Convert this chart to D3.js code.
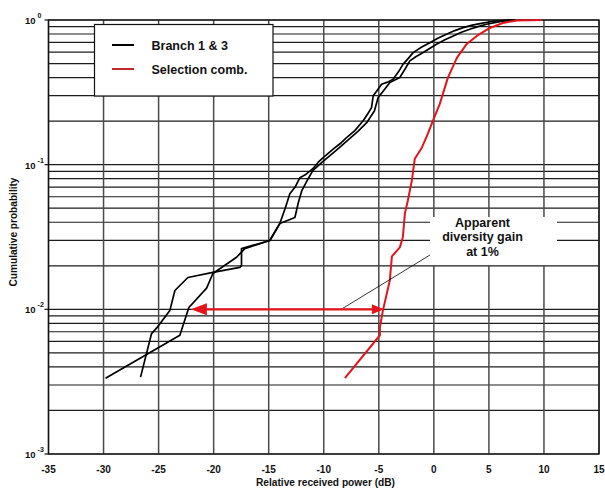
<!DOCTYPE html>
<html>
<head>
<meta charset="utf-8">
<script src="https://cdn.jsdelivr.net/npm/d3@7"></script>
<style>
  body { margin: 0; background: #fff; }
  svg { display: block; font-family: "Liberation Sans", Arial, sans-serif; }
</style>
</head>
<body>
<svg id="chart" width="605" height="488"></svg>
<script>
// ---- data ----
const xTicks = [-35, -30, -25, -20, -15, -10, -5, 0, 5, 10, 15];
const yDecades = [-3, -2, -1, 0];
const seriesNames = ["Branch 1 & 3", "Selection comb."];

// [relative power dB, cumulative probability]
const branchA = [
  [-29.82, 0.00334], [-23.07, 0.00662], [-22.25, 0.0103], [-20.64, 0.0140],
  [-20.07, 0.0177], [-17.92, 0.0229], [-17.17, 0.0263], [-14.9, 0.0299],
  [-13.99, 0.0392], [-13.5, 0.050], [-13.08, 0.063], [-12.6, 0.070], [-12.17, 0.0813],
  [-11.6, 0.086], [-10.99, 0.0938], [-10.5, 0.104], [-10.05, 0.112], [-9.15, 0.128],
  [-8.5, 0.140], [-7.93, 0.154], [-7.18, 0.172], [-6.42, 0.201], [-6.0, 0.225],
  [-5.66, 0.248], [-5.51, 0.299], [-5.1, 0.330], [-4.75, 0.360], [-4.2, 0.372],
  [-3.70, 0.390], [-3.2, 0.440], [-2.79, 0.495], [-2.3, 0.545], [-1.88, 0.595],
  [-1.1, 0.650], [-0.36, 0.697], [0.4, 0.750], [1.15, 0.797], [1.9, 0.845],
  [2.66, 0.885], [3.4, 0.918], [4.18, 0.944], [5.39, 0.980], [6.5, 0.995], [7.2, 1.0]
];
const branchB = [
  [-26.64, 0.0034], [-25.64, 0.0068], [-25.07, 0.0076], [-23.98, 0.0098],
  [-23.52, 0.0135], [-22.34, 0.0166], [-20.07, 0.0180], [-17.62, 0.0195],
  [-17.47, 0.0201], [-17.47, 0.0263], [-14.9, 0.0299], [-13.99, 0.0392],
  [-12.62, 0.0431], [-12.3, 0.055], [-11.99, 0.0662], [-11.5, 0.078],
  [-10.99, 0.091], [-10.4, 0.100], [-9.9, 0.108], [-8.9, 0.125], [-8.3, 0.137],
  [-7.7, 0.150], [-6.9, 0.170], [-6.1, 0.195], [-5.4, 0.235], [-5.06, 0.291],
  [-4.5, 0.330], [-4.0, 0.370], [-3.09, 0.400], [-2.6, 0.460], [-2.18, 0.522],
  [-1.6, 0.560], [-0.97, 0.596], [0.24, 0.680], [1.0, 0.730], [1.76, 0.776],
  [2.5, 0.822], [3.27, 0.863], [4.0, 0.900], [4.78, 0.934], [5.99, 0.975],
  [6.8, 0.995], [7.4, 1.0]
];
const selection = [
  [-8.08, 0.00334], [-4.90, 0.00662], [-4.90, 0.0075], [-4.63, 0.0098],
  [-4.0, 0.0158], [-3.81, 0.0232], [-3.09, 0.0268], [-2.82, 0.0314],
  [-2.63, 0.0459], [-2.36, 0.0565], [-2.0, 0.0776], [-1.73, 0.110],
  [-1.09, 0.131], [-0.54, 0.164], [-0.09, 0.201], [0.54, 0.263],
  [1.27, 0.398], [2.09, 0.547], [2.99, 0.683], [3.9, 0.776], [5.09, 0.881],
  [6.27, 0.953], [7.54, 0.992], [9.81, 1.0]
];

// annotation: gain arrow at 1 %
const gainLevel = 0.01;
const gainFrom = -4.54;   // selection comb. at 1 %
const gainTo = -22.07;    // branch at 1 %
const annotationText = ["Apparent", "diversity gain", "at 1%"];

// ---- layout ----
const svg = d3.select("#chart");
const W = 605, H = 488;
const x = d3.scaleLinear().domain([-35, 15]).range([48.5, 599]);
const y = d3.scaleLog().domain([0.001, 1]).range([454, 20]);

svg.append("rect").attr("width", W).attr("height", H).attr("fill", "#fff");

// horizontal grid (log minor lines)
const hLines = [];
yDecades.slice(0, 3).forEach(d => {
  for (let m = 1; m <= 9; m++) hLines.push(m * Math.pow(10, d));
});
hLines.push(1);
svg.append("g").selectAll("line").data(hLines).join("line")
  .attr("x1", x(-35)).attr("x2", x(15))
  .attr("y1", d => y(d)).attr("y2", d => y(d))
  .attr("stroke", (d, i) => "#1c1c1c").attr("stroke-width", 1.2);

// vertical grid
svg.append("g").selectAll("line").data(xTicks).join("line")
  .attr("x1", d => x(d)).attr("x2", d => x(d))
  .attr("y1", y(1)).attr("y2", y(0.001))
  .attr("stroke", "#4a4a4a").attr("stroke-width", 1.5);

// frame
svg.append("rect").attr("x", x(-35)).attr("y", y(1))
  .attr("width", x(15) - x(-35)).attr("height", y(0.001) - y(1))
  .attr("fill", "none").attr("stroke", "#111").attr("stroke-width", 1.3);

// left outward ticks at decades
svg.append("g").selectAll("line").data(yDecades).join("line")
  .attr("x1", x(-35) - 4).attr("x2", x(-35))
  .attr("y1", d => y(Math.pow(10, d))).attr("y2", d => y(Math.pow(10, d)))
  .attr("stroke", "#111").attr("stroke-width", 1.2);

// x tick labels
svg.append("g").selectAll("text").data(xTicks).join("text")
  .attr("x", d => x(d)).attr("y", 472.5)
  .attr("text-anchor", "middle")
  .attr("font-size", 10).attr("font-weight", "bold").attr("fill", "#111")
  .text(d => d);

// y tick labels 10^k
const yl = svg.append("g").selectAll("text").data(yDecades).join("text")
  .attr("x", 25).attr("y", d => y(Math.pow(10, d)) + 4)
  .attr("font-size", 9.5).attr("font-weight", "bold").attr("fill", "#111");
yl.append("tspan").text("10");
yl.append("tspan").attr("dx", 2).attr("dy", -6).attr("font-size", 7).text(d => d);

// axis titles
svg.append("text").attr("x", 325.5).attr("y", 486)
  .attr("text-anchor", "middle").attr("font-size", 10).attr("font-weight", "bold")
  .attr("textLength", 139).attr("lengthAdjust", "spacingAndGlyphs")
  .attr("fill", "#111").text("Relative received power (dB)");
svg.append("text")
  .attr("transform", "translate(17,232) rotate(-90)")
  .attr("text-anchor", "middle").attr("font-size", 10).attr("font-weight", "bold")
  .attr("textLength", 109).attr("lengthAdjust", "spacingAndGlyphs")
  .attr("fill", "#111").text("Cumulative probability");

// annotation box (white, covers grid)
const boxX0 = 430, boxX1 = 557, boxY0 = 217, boxY1 = 265;
svg.append("rect").attr("x", boxX0).attr("y", boxY0)
  .attr("width", boxX1 - boxX0).attr("height", boxY1 - boxY0).attr("fill", "#fff");

// curves
const line = d3.line().x(d => x(d[0])).y(d => y(d[1]));
svg.append("path").datum(branchA).attr("d", line)
  .attr("fill", "none").attr("stroke", "#000").attr("stroke-width", 1.7)
  .attr("stroke-linejoin", "round");
svg.append("path").datum(branchB).attr("d", line)
  .attr("fill", "none").attr("stroke", "#000").attr("stroke-width", 1.7)
  .attr("stroke-linejoin", "round");
svg.append("path").datum(selection).attr("d", line)
  .attr("fill", "none").attr("stroke", "#e3141c").attr("stroke-width", 2)
  .attr("stroke-linejoin", "round");

// leader line
svg.append("line")
  .attr("x1", x(-8.27)).attr("y1", y(gainLevel) - 1)
  .attr("x2", boxX0).attr("y2", 255)
  .attr("stroke", "#000").attr("stroke-width", 0.8);

// gain arrow
const ay = y(gainLevel);
const xl = x(gainTo), xr = x(gainFrom);
svg.append("line").attr("x1", xl + 14).attr("x2", xr - 10)
  .attr("y1", ay).attr("y2", ay)
  .attr("stroke", "#e3141c").attr("stroke-width", 2.4);
svg.append("path")
  .attr("d", `M${xl},${ay} L${xl + 16},${ay - 6} L${xl + 16},${ay + 6} Z`)
  .attr("fill", "#e3141c");
svg.append("path")
  .attr("d", `M${xr},${ay} L${xr - 12},${ay - 5} L${xr - 12},${ay + 5} Z`)
  .attr("fill", "#e3141c");

// annotation text
svg.append("g").selectAll("text").data(annotationText).join("text")
  .attr("x", 482.5).attr("y", (d, i) => 226.5 + i * 14.8)
  .attr("text-anchor", "middle").attr("font-size", 12.5).attr("font-weight", "bold")
  .attr("fill", "#111").text(d => d);

// legend
const lg = svg.append("g");
lg.append("rect").attr("x", 94.5).attr("y", 24.5).attr("width", 178.5).attr("height", 71.5)
  .attr("fill", "#fff").attr("stroke", "#111").attr("stroke-width", 1.2);
const legColors = ["#000", "#c0282c"];
seriesNames.forEach((n, i) => {
  const ly = 45 + i * 24;
  lg.append("line").attr("x1", 112).attr("x2", 134).attr("y1", ly).attr("y2", ly)
    .attr("stroke", legColors[i]).attr("stroke-width", 2);
  lg.append("text").attr("x", 151.5).attr("y", ly + 5)
    .attr("font-size", 12.5).attr("font-weight", "bold").attr("fill", "#111").text(n);
});
</script>
</body>
</html>
